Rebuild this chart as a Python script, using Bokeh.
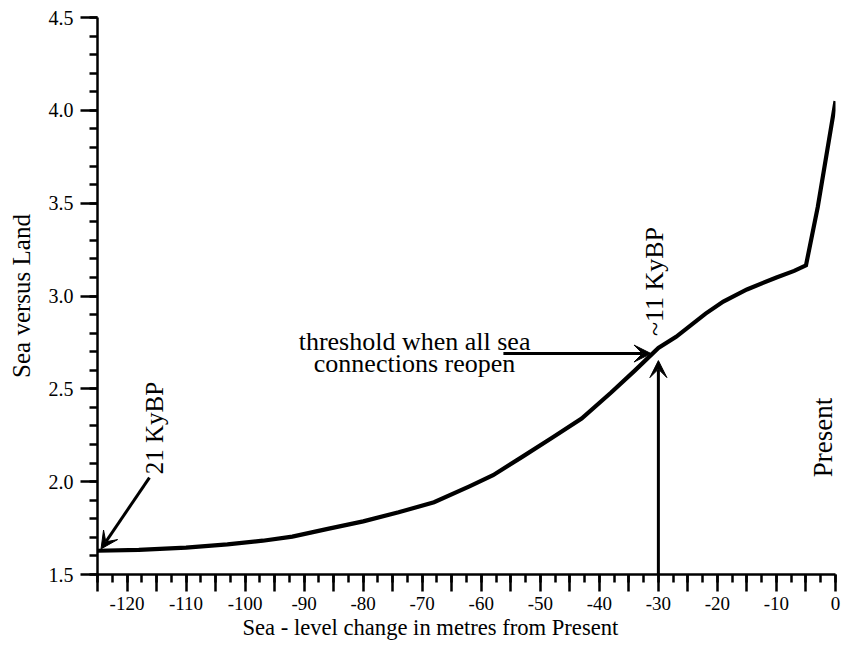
import math
from bokeh.plotting import figure
from bokeh.models import Range1d, FixedTicker, Arrow, VeeHead, Label, Title
from bokeh.embed import file_html
from bokeh.resources import INLINE

# ---- data ----
sea_level = [-125, -118, -110, -103, -97, -92, -86, -80, -74, -68, -62, -58, -53,
             -48, -43, -38, -34, -30, -27, -22, -19, -15, -10, -7, -5, -3, 0]
sea_vs_land = [1.628, 1.633, 1.645, 1.662, 1.682, 1.704, 1.746, 1.786, 1.835, 1.889,
               1.975, 2.035, 2.135, 2.237, 2.34, 2.48, 2.598, 2.72, 2.78, 2.905,
               2.97, 3.035, 3.10, 3.135, 3.165, 3.48, 4.05]

x_major = list(range(-125, 1, 5))
x_minor = [v / 2 for v in range(-250, 1, 5)]
x_labels = {v: ("" if v % 10 else str(v)) for v in x_major}
y_major = [1.5, 2.0, 2.5, 3.0, 3.5, 4.0, 4.5]
y_minor = [round(1.5 + 0.1 * i, 1) for i in range(31)]
y_labels = {v: f"{v:.1f}" for v in y_major}

FONT = "Liberation Serif"

p = figure(width=842, height=651, output_backend="svg", toolbar_location=None,
           x_range=Range1d(-125, 0), y_range=Range1d(1.5, 4.5),
           min_border_left=97, min_border_right=7, min_border_top=17,
           min_border_bottom=77)
p.outline_line_color = None
p.grid.visible = False
p.background_fill_color = "white"

p.line(sea_level, sea_vs_land, line_width=4.2, line_color="black", line_join="miter")

for ax in (p.xaxis[0], p.yaxis[0]):
    ax.axis_line_width = 2.5
    ax.axis_line_color = "black"
    ax.major_tick_line_width = 2.5
    ax.minor_tick_line_width = 2.5
    ax.major_tick_in = 0
    ax.minor_tick_in = 0
    ax.major_tick_out = 17
    ax.minor_tick_out = 8
    ax.major_label_text_font = FONT
    ax.major_label_text_color = "black"
    ax.axis_label_text_font = FONT
    ax.axis_label_text_font_style = "normal"
    ax.axis_label_text_color = "black"

p.xaxis[0].ticker = FixedTicker(ticks=x_major, minor_ticks=x_minor)
p.xaxis[0].major_label_overrides = x_labels
p.xaxis[0].major_label_standoff = 5
p.xaxis[0].major_label_text_font_size = "19px"
p.yaxis[0].ticker = FixedTicker(ticks=y_major, minor_ticks=y_minor)
p.yaxis[0].major_label_overrides = y_labels
p.yaxis[0].major_label_standoff = 7
p.yaxis[0].major_label_text_font_size = "20px"
p.yaxis[0].axis_label = "Sea versus Land"
p.yaxis[0].axis_label_text_font_size = "25px"
p.yaxis[0].axis_label_standoff = 11

# x-axis title (placed left of centre as in the original)
p.add_layout(Title(text="Sea - level change in metres from Present", align="left",
                   offset=145, text_font=FONT, text_font_size="22.6px",
                   text_font_style="normal", text_color="black", standoff=0), "below")

# annotations
def tlabel(x, y, txt, size, angle=0.0):
    p.add_layout(Label(x=x, y=y, text=txt, angle=angle, text_font=FONT,
                       text_font_size=size, text_align="center",
                       text_baseline="middle", text_color="black"))

tlabel(-115.4, 2.289, "21 KyBP", "25px", math.pi / 2)
tlabel(-30.6, 3.078, "~11 KyBP", "26px", math.pi / 2)
tlabel(-2.2, 2.238, "Present", "27px", math.pi / 2)
tlabel(-71.3, 2.755, "threshold when all sea", "26px")
tlabel(-71.3, 2.636, "connections reopen", "26px")

def arrow(x0, y0, x1, y1):
    p.add_layout(Arrow(end=VeeHead(size=17, fill_color="black", line_color="black",
                                   line_width=1),
                       x_start=x0, y_start=y0, x_end=x1, y_end=y1,
                       line_width=3, line_color="black"))

arrow(-116.2, 2.022, -124.4, 1.638)
arrow(-56.25, 2.69, -31.25, 2.69)
arrow(-30.0, 1.5, -30.0, 2.652)

open("out.html", "w").write(file_html(p, INLINE))
